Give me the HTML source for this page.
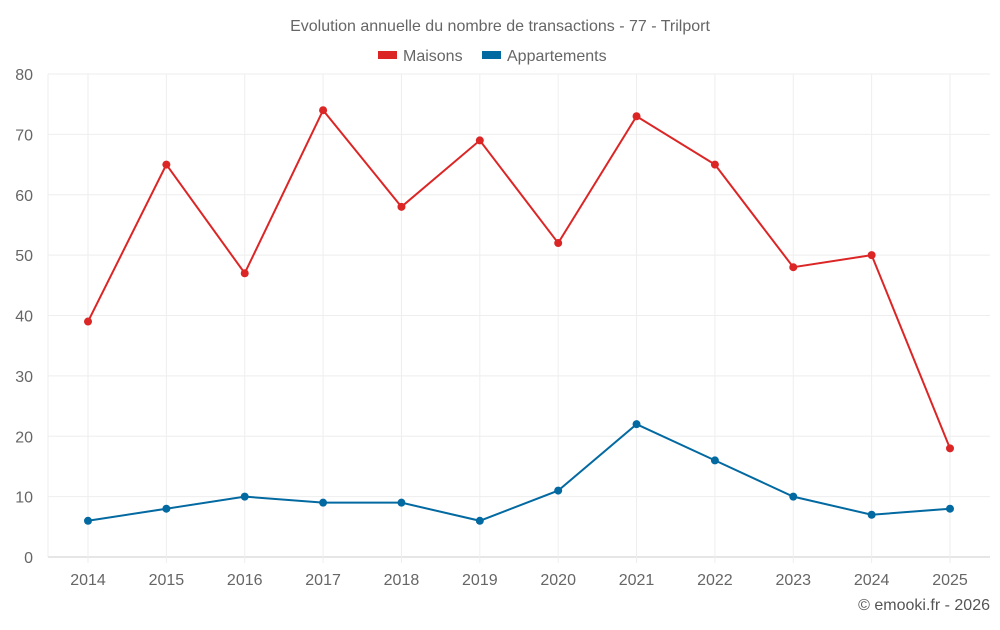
<!DOCTYPE html>
<html><head><meta charset="utf-8"><style>
body{margin:0;background:#fff;font-family:"Liberation Sans",sans-serif}
svg text{font-family:"Liberation Sans",sans-serif}
</style></head><body>
<svg id="c" width="1000" height="625">
<text x="500" y="31" text-anchor="middle" font-size="16" fill="#666">Evolution annuelle du nombre de transactions - 77 - Trilport</text>
<g>
<rect x="378" y="51" width="19" height="8" fill="#dc2626"/>
<text x="403" y="61" font-size="16" fill="#666">Maisons</text>
<rect x="482" y="51" width="19" height="8" fill="#0369a1"/>
<text x="507" y="61" font-size="16" fill="#666">Appartements</text>
</g>
<g id="grid"></g><g id="marks"></g>
<text x="990" y="610" text-anchor="end" font-size="16" fill="#555">© emooki.fr - 2026</text>
</svg>
<script>
const years=["2014","2015","2016","2017","2018","2019","2020","2021","2022","2023","2024","2025"];
const maisons=[39,65,47,74,58,69,52,73,65,48,50,18];
const appartements=[6,8,10,9,9,6,11,22,16,10,7,8];
const yTicks=[0,10,20,30,40,50,60,70,80];
const NS="http://www.w3.org/2000/svg";
const L=48,R=990,T=74,B=557,yMax=80;
const x=i=>88+i*(950-88)/(years.length-1);
const y=v=>B-(B-T)*v/yMax;
function mk(tag,at,parent){const e=document.createElementNS(NS,tag);for(const k in at)e.setAttribute(k,at[k]);parent.appendChild(e);return e;}
const g=document.getElementById('grid'),m=document.getElementById('marks');
yTicks.forEach(t=>{
 const ln=mk('line',{x1:L,x2:R,y1:y(t),y2:y(t),stroke:t===0?'#ccc':'#eee'},g);
 
 
 const tx=mk('text',{x:33,y:y(t)+6,'text-anchor':'end','font-size':16,fill:'#666'},g);tx.textContent=t;
 
 
});
years.forEach((yr,i)=>{
 const ln=mk('line',{x1:x(i),x2:x(i),y1:T,y2:B+6,stroke:'#eee'},g);
 
 
 const tx=mk('text',{x:x(i),y:585,'text-anchor':'middle','font-size':16,fill:'#666'},g);tx.textContent=yr;
 
 
});
const lv=mk('line',{x1:L,x2:L,y1:T,y2:B,stroke:'#eee'},g);


[[maisons,'#dc2626','maisons'],[appartements,'#0369a1','appartements']].forEach(([d,c,n])=>{
 const p=mk('polyline',{points:d.map((v,i)=>x(i)+','+y(v)).join(' '),fill:'none',stroke:c,'stroke-width':2},m);
 
 
 d.forEach((v,i)=>{
  const pt=mk('circle',{cx:x(i),cy:y(v),r:4,fill:c},m);
  
  
 });
});
</script>
</body></html>
